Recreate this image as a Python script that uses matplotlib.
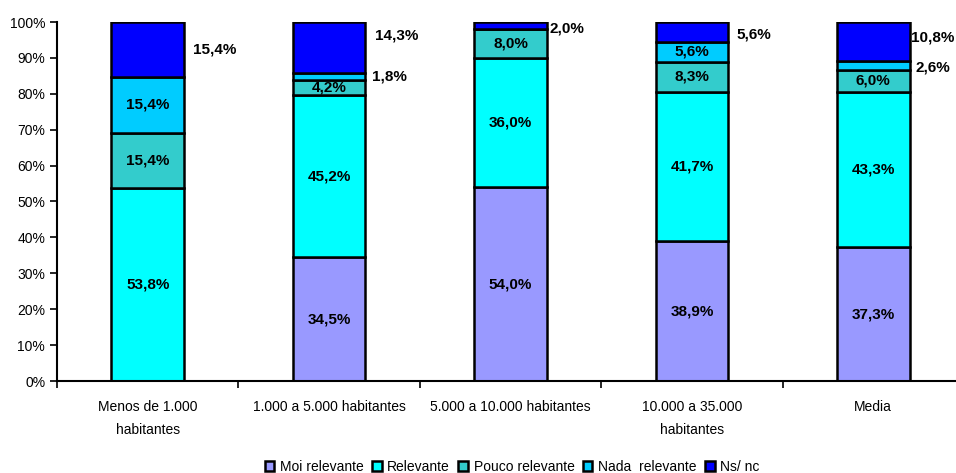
import numpy as np
import matplotlib.pyplot as plt

plt.rcParams['font.family'] = ['Liberation Sans', 'DejaVu Sans']

categorias = ['Menos de 1.000\nhabitantes', '1.000 a 5.000 habitantes',
              '5.000 a 10.000 habitantes', '10.000 a 35.000\nhabitantes', 'Media']
series = ['Moi relevante', 'Relevante', 'Pouco relevante', 'Nada  relevante', 'Ns/ nc']
moi_relevante = [0.0, 34.5, 54.0, 38.9, 37.3]
relevante = [53.8, 45.2, 36.0, 41.7, 43.3]
pouco_relevante = [15.4, 4.2, 8.0, 8.3, 6.0]
nada_relevante = [15.4, 1.8, 0.0, 5.6, 2.6]
ns_nc = [15.4, 14.3, 2.0, 5.6, 10.8]
cores = ['#9999FF', '#00FFFF', '#33CCCC', '#00CCFF', '#0000FF']

valores = [moi_relevante, relevante, pouco_relevante, nada_relevante, ns_nc]

fig = plt.figure(figsize=(9.56, 4.73), dpi=100)
ax = fig.add_axes([57 / 956, 92 / 473, 907 / 956, 359 / 473])

x = np.arange(len(categorias))
larg = 0.4
base = np.zeros(len(categorias))
# piccoli spostamenti manuali per le etichette esterne (dy in %, dx in pixel)
spost = {(4, 1): 3.5, (4, 4): 1.2, (4, 3): -0.7, (3, 4): -0.6, (4, 2): -0.7}
dx_px = {(4, 0): 9, (4, 1): 10, (3, 1): 7, (4, 2): 3, (4, 3): 8, (4, 4): 1, (3, 4): 6}
for s, vals in enumerate(valores):
    vals = np.array(vals)
    ax.bar(x, vals, larg, bottom=base, color=cores[s], edgecolor='black',
           linewidth=1.8, label=series[s], zorder=2)
    for i, v in enumerate(vals):
        if v <= 0:
            continue
        yc = base[i] + v / 2
        testo = f'{v:.1f}%'.replace('.', ',')
        if s == 4 or v < 3:
            yc += spost.get((s, i), 0)
            dx = dx_px.get((s, i), 6) / 181.4
            ax.text(x[i] + larg / 2 + dx, yc, testo, ha='left', va='center',
                    fontsize=11, fontweight='bold')
        else:
            ax.text(x[i], yc, testo, ha='center', va='center',
                    fontsize=11, fontweight='bold')
    base += vals

ax.set_xlim(-0.5, len(categorias) - 0.5)
ax.set_ylim(0, 100)
ax.set_yticks(np.arange(0, 101, 10))
ax.set_yticklabels([f'{t}%' for t in range(0, 101, 10)], fontsize=10)
ax.set_xticks(x)
ax.set_xticklabels(categorias, fontsize=10, linespacing=1.8)
ax.tick_params(axis='x', length=0, pad=14)
ax.set_xticks(np.arange(-0.5, len(categorias), 1), minor=True)
ax.tick_params(axis='x', which='minor', length=5, width=1.2, direction='out')
ax.tick_params(axis='y', length=5, width=1.2, direction='out')
for lato in ['top', 'right']:
    ax.spines[lato].set_visible(False)
ax.spines['left'].set_linewidth(1.5)
ax.spines['bottom'].set_linewidth(1.5)

handles, labels = ax.get_legend_handles_labels()
fig.legend(handles, labels, loc='center', bbox_to_anchor=(512 / 956, 1 - 467 / 473),
           ncol=5, frameon=False, fontsize=10, handlelength=0.7, handleheight=0.7,
           handletextpad=0.4, columnspacing=0.6)

fig.savefig('out.png', dpi=100)
